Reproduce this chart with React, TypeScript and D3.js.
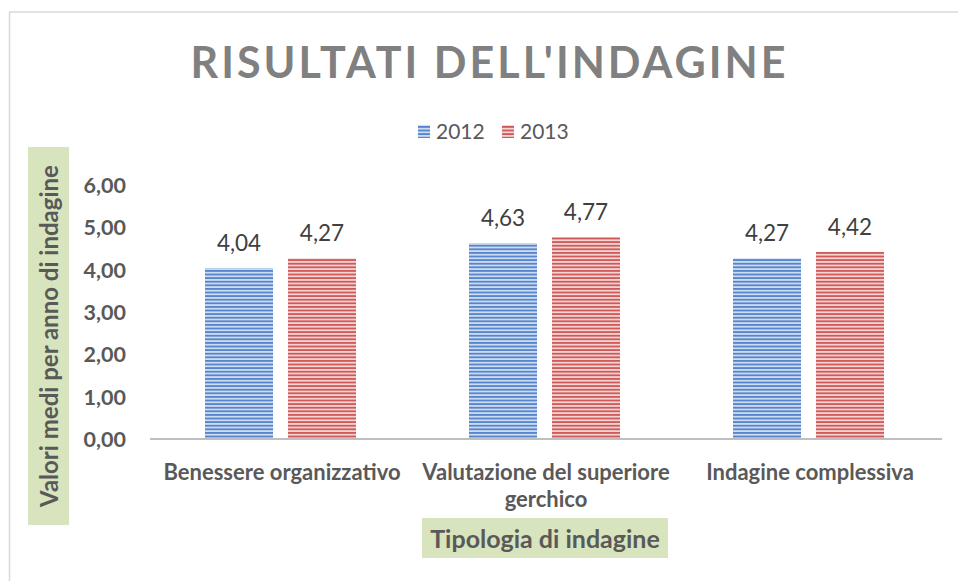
import React from "react";
import * as d3 from "d3";

const categories = ["Benessere organizzativo", "Valutazione del superiore gerchico", "Indagine complessiva"];
const categoryLines = [["Benessere organizzativo"], ["Valutazione del superiore", "gerchico"], ["Indagine complessiva"]];
const seriesNames = ["2012", "2013"];
const values2012 = [4.04, 4.63, 4.27];
const values2013 = [4.27, 4.77, 4.42];
const yTicks = [0, 1, 2, 3, 4, 5, 6];
const title = "RISULTATI DELL'INDAGINE";
const yTitle = "Valori medi per anno di indagine";
const xTitle = "Tipologia di indagine";

const W = 958, H = 581;
const FONT = "Lato, 'Open Sans', sans-serif";
const fmt = (v: number) => v.toFixed(2).replace(".", ",");

export default function App() {
  const x = d3.scaleBand<string>().domain(categories).range([150, 942]).padding(0);
  const x1 = d3.scaleBand<string>().domain(seriesNames).range([55, 206]).paddingInner(0.18).paddingOuter(0);
  const y = d3.scaleLinear().domain([0, 6]).range([439, 185]);
  const series = [
    { name: "2012", values: values2012, fill: "url(#pBlue)" },
    { name: "2013", values: values2013, fill: "url(#pRed)" },
  ];
  return (
    <svg width={W} height={H} style={{ display: "block", position: "absolute", left: 0, top: 0 }}>
      <defs>
        <pattern id="pBlue" patternUnits="userSpaceOnUse" width={10} height={3.6}>
          <rect width={10} height={3.6} fill="#cddbf0" />
          <rect width={10} height={1.8} fill="#5585ca" />
        </pattern>
        <pattern id="pRed" patternUnits="userSpaceOnUse" width={10} height={3.6}>
          <rect width={10} height={3.6} fill="#f3d2d2" />
          <rect width={10} height={1.8} fill="#cf5a5a" />
        </pattern>
      </defs>
      <rect x={0} y={0} width={W} height={H} fill="#fff" />
      <line x1={9} y1={12} x2={W} y2={12} stroke="#d9d9d9" strokeWidth={1.5} />
      <line x1={9.5} y1={12} x2={9.5} y2={H} stroke="#d9d9d9" strokeWidth={1.5} />

      <text x={488} y={78} textAnchor="middle" fontFamily={FONT} fontWeight={700} fontSize={43}
        fill="#808080" textLength={595} lengthAdjust="spacing">{title}</text>

      {/* legend */}
      {seriesNames.map((s, i) => {
        const lx = 418 + i * 84;
        return (
          <g key={s}>
            <rect x={lx} y={125} width={12} height={13} fill={i === 0 ? "url(#pBlue)" : "url(#pRed)"} />
            <text x={lx + 18} y={139} fontFamily={FONT} fontSize={21} fill="#595959">{s}</text>
          </g>
        );
      })}

      {/* y ticks */}
      {yTicks.map((t) => (
        <text key={t} x={126} y={y(t) + 8} textAnchor="end" fontFamily={FONT} fontWeight={700} fontSize={21.5} fill="#595959">{fmt(t)}</text>
      ))}

      {/* bars */}
      {categories.map((c, ci) => (
        <g key={c} transform={`translate(${x(c)},0)`}>
          {series.map((s) => {
            const v = s.values[ci];
            const bx = x1(s.name)!;
            return (
              <g key={s.name}>
                <rect x={bx} y={y(v)} width={x1.bandwidth()} height={y(0) - y(v)} fill={s.fill} />
                <text x={bx + x1.bandwidth() / 2} y={y(v) - 17} textAnchor="middle" fontFamily={FONT} fontSize={22.5} fill="#404040">{fmt(v)}</text>
              </g>
            );
          })}
        </g>
      ))}

      <line x1={150} y1={439} x2={942} y2={439} stroke="#bfbfbf" strokeWidth={2} />

      {/* category labels */}
      {categories.map((c, ci) => (
        <text key={c} textAnchor="middle" fontFamily={FONT} fontWeight={700} fontSize={22} fill="#595959">
          {categoryLines[ci].map((ln, li) => (
            <tspan key={li} x={x(c)! + x.bandwidth() / 2} y={480 + li * 27}>{ln}</tspan>
          ))}
        </text>
      ))}

      {/* axis titles */}
      <rect x={422} y={518} width={246} height={40} fill="#d7e4bd" />
      <text x={545} y={548} textAnchor="middle" fontFamily={FONT} fontWeight={700} fontSize={25} fill="#595959">{xTitle}</text>
      <rect x={28} y={147} width={41} height={378} fill="#d7e4bd" />
      <text transform="translate(58,336) rotate(-90)" textAnchor="middle" fontFamily={FONT} fontWeight={700} fontSize={24} fill="#595959">{yTitle}</text>
    </svg>
  );
}
